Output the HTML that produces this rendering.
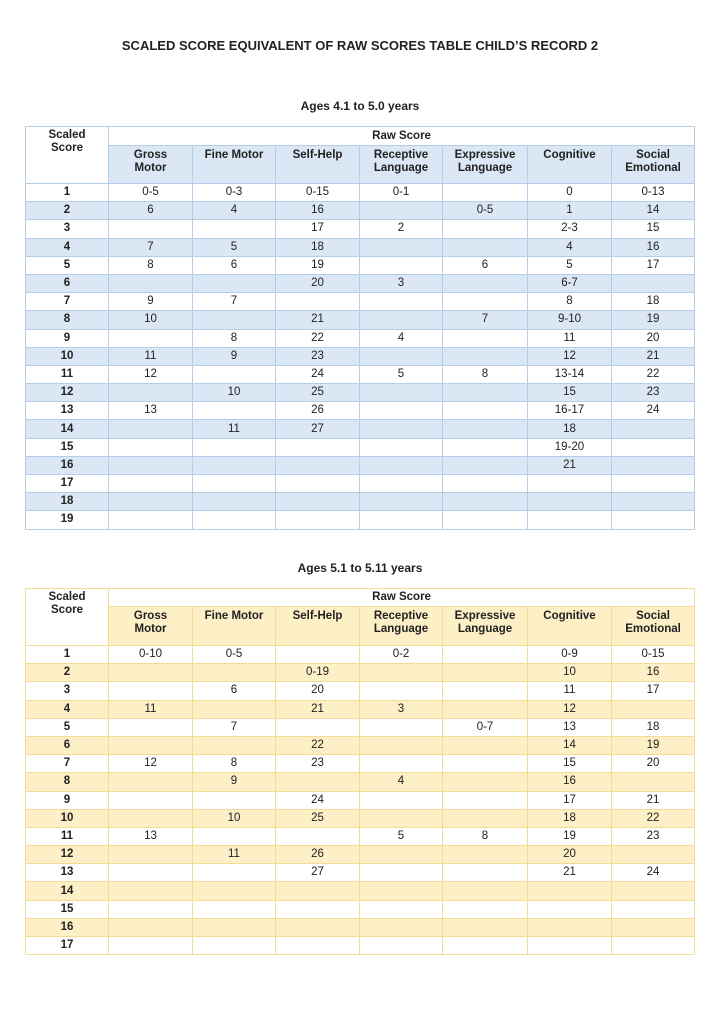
<!DOCTYPE html>
<html><head><meta charset="utf-8"><style>
body{margin:0;width:720px;height:1016px;background:#fff;font-family:"Liberation Sans",sans-serif;color:#222;position:relative}
.t{position:absolute;left:0;width:720px;text-align:center;font-weight:bold}
table{position:absolute;left:25px;width:669px;border-collapse:collapse;table-layout:fixed;font-size:11.5px}
td{text-align:center;padding:0;line-height:13px;overflow:hidden;white-space:nowrap}
td.s{font-weight:bold}
.b td{border:1px solid #b5cde8}
.b .sh td.c,.b tr.e td{background:#dbe7f5}
.y td{border:1px solid #f3dc97}
.y .sh td.c,.y tr.e td{background:#fdefc6}
.hd td{font-weight:bold}
tr.r{height:18.2px}
</style></head><body>
<div class="t" style="top:38px;font-size:13px">SCALED SCORE EQUIVALENT OF RAW SCORES TABLE CHILD’S RECORD 2</div>
<div class="t" style="top:99px;font-size:12px">Ages 4.1 to 5.0 years</div>
<table class="b" style="top:126px">
<colgroup><col style="width:83px"><col style="width:84px"><col style="width:83px"><col style="width:84px"><col style="width:83px"><col style="width:85px"><col style="width:84px"><col style="width:83px"></colgroup>
<tr class="hd" style="height:19px"><td rowspan="2" style="vertical-align:top;padding-top:2px">Scaled<br>Score</td><td colspan="7">Raw Score</td></tr>
<tr class="hd sh" style="height:38px"><td class="c" style="vertical-align:top;padding-top:3px">Gross<br>Motor</td><td class="c" style="vertical-align:top;padding-top:3px">Fine Motor</td><td class="c" style="vertical-align:top;padding-top:3px">Self-Help</td><td class="c" style="vertical-align:top;padding-top:3px">Receptive<br>Language</td><td class="c" style="vertical-align:top;padding-top:3px">Expressive<br>Language</td><td class="c" style="vertical-align:top;padding-top:3px">Cognitive</td><td class="c" style="vertical-align:top;padding-top:3px">Social<br>Emotional</td></tr>
<tr class="r"><td class="s">1</td><td>0-5</td><td>0-3</td><td>0-15</td><td>0-1</td><td></td><td>0</td><td>0-13</td></tr>
<tr class="r e"><td class="s">2</td><td>6</td><td>4</td><td>16</td><td></td><td>0-5</td><td>1</td><td>14</td></tr>
<tr class="r"><td class="s">3</td><td></td><td></td><td>17</td><td>2</td><td></td><td>2-3</td><td>15</td></tr>
<tr class="r e"><td class="s">4</td><td>7</td><td>5</td><td>18</td><td></td><td></td><td>4</td><td>16</td></tr>
<tr class="r"><td class="s">5</td><td>8</td><td>6</td><td>19</td><td></td><td>6</td><td>5</td><td>17</td></tr>
<tr class="r e"><td class="s">6</td><td></td><td></td><td>20</td><td>3</td><td></td><td>6-7</td><td></td></tr>
<tr class="r"><td class="s">7</td><td>9</td><td>7</td><td></td><td></td><td></td><td>8</td><td>18</td></tr>
<tr class="r e"><td class="s">8</td><td>10</td><td></td><td>21</td><td></td><td>7</td><td>9-10</td><td>19</td></tr>
<tr class="r"><td class="s">9</td><td></td><td>8</td><td>22</td><td>4</td><td></td><td>11</td><td>20</td></tr>
<tr class="r e"><td class="s">10</td><td>11</td><td>9</td><td>23</td><td></td><td></td><td>12</td><td>21</td></tr>
<tr class="r"><td class="s">11</td><td>12</td><td></td><td>24</td><td>5</td><td>8</td><td>13-14</td><td>22</td></tr>
<tr class="r e"><td class="s">12</td><td></td><td>10</td><td>25</td><td></td><td></td><td>15</td><td>23</td></tr>
<tr class="r"><td class="s">13</td><td>13</td><td></td><td>26</td><td></td><td></td><td>16-17</td><td>24</td></tr>
<tr class="r e"><td class="s">14</td><td></td><td>11</td><td>27</td><td></td><td></td><td>18</td><td></td></tr>
<tr class="r"><td class="s">15</td><td></td><td></td><td></td><td></td><td></td><td>19-20</td><td></td></tr>
<tr class="r e"><td class="s">16</td><td></td><td></td><td></td><td></td><td></td><td>21</td><td></td></tr>
<tr class="r"><td class="s">17</td><td></td><td></td><td></td><td></td><td></td><td></td><td></td></tr>
<tr class="r e"><td class="s">18</td><td></td><td></td><td></td><td></td><td></td><td></td><td></td></tr>
<tr class="r"><td class="s">19</td><td></td><td></td><td></td><td></td><td></td><td></td><td></td></tr>
</table>
<div class="t" style="top:561px;font-size:12px">Ages 5.1 to 5.11 years</div>
<table class="y" style="top:588px">
<colgroup><col style="width:83px"><col style="width:84px"><col style="width:83px"><col style="width:84px"><col style="width:83px"><col style="width:85px"><col style="width:84px"><col style="width:83px"></colgroup>
<tr class="hd" style="height:18px"><td rowspan="2" style="vertical-align:top;padding-top:2px">Scaled<br>Score</td><td colspan="7">Raw Score</td></tr>
<tr class="hd sh" style="height:39px"><td class="c" style="vertical-align:top;padding-top:3px">Gross<br>Motor</td><td class="c" style="vertical-align:top;padding-top:3px">Fine Motor</td><td class="c" style="vertical-align:top;padding-top:3px">Self-Help</td><td class="c" style="vertical-align:top;padding-top:3px">Receptive<br>Language</td><td class="c" style="vertical-align:top;padding-top:3px">Expressive<br>Language</td><td class="c" style="vertical-align:top;padding-top:3px">Cognitive</td><td class="c" style="vertical-align:top;padding-top:3px">Social<br>Emotional</td></tr>
<tr class="r"><td class="s">1</td><td>0-10</td><td>0-5</td><td></td><td>0-2</td><td></td><td>0-9</td><td>0-15</td></tr>
<tr class="r e"><td class="s">2</td><td></td><td></td><td>0-19</td><td></td><td></td><td>10</td><td>16</td></tr>
<tr class="r"><td class="s">3</td><td></td><td>6</td><td>20</td><td></td><td></td><td>11</td><td>17</td></tr>
<tr class="r e"><td class="s">4</td><td>11</td><td></td><td>21</td><td>3</td><td></td><td>12</td><td></td></tr>
<tr class="r"><td class="s">5</td><td></td><td>7</td><td></td><td></td><td>0-7</td><td>13</td><td>18</td></tr>
<tr class="r e"><td class="s">6</td><td></td><td></td><td>22</td><td></td><td></td><td>14</td><td>19</td></tr>
<tr class="r"><td class="s">7</td><td>12</td><td>8</td><td>23</td><td></td><td></td><td>15</td><td>20</td></tr>
<tr class="r e"><td class="s">8</td><td></td><td>9</td><td></td><td>4</td><td></td><td>16</td><td></td></tr>
<tr class="r"><td class="s">9</td><td></td><td></td><td>24</td><td></td><td></td><td>17</td><td>21</td></tr>
<tr class="r e"><td class="s">10</td><td></td><td>10</td><td>25</td><td></td><td></td><td>18</td><td>22</td></tr>
<tr class="r"><td class="s">11</td><td>13</td><td></td><td></td><td>5</td><td>8</td><td>19</td><td>23</td></tr>
<tr class="r e"><td class="s">12</td><td></td><td>11</td><td>26</td><td></td><td></td><td>20</td><td></td></tr>
<tr class="r"><td class="s">13</td><td></td><td></td><td>27</td><td></td><td></td><td>21</td><td>24</td></tr>
<tr class="r e"><td class="s">14</td><td></td><td></td><td></td><td></td><td></td><td></td><td></td></tr>
<tr class="r"><td class="s">15</td><td></td><td></td><td></td><td></td><td></td><td></td><td></td></tr>
<tr class="r e"><td class="s">16</td><td></td><td></td><td></td><td></td><td></td><td></td><td></td></tr>
<tr class="r"><td class="s">17</td><td></td><td></td><td></td><td></td><td></td><td></td><td></td></tr>
</table>
</body></html>
